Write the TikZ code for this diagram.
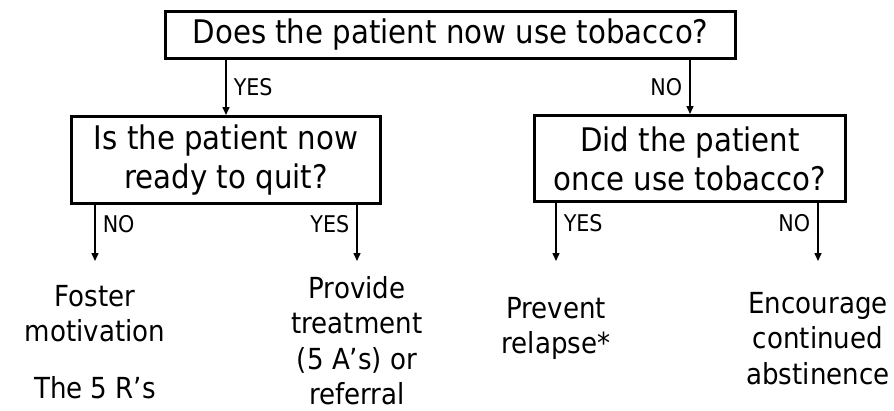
\documentclass[tikz,border=0pt]{standalone}
\usepackage{fontspec}
\setmainfont{DejaVu Sans}[FakeStretch=0.9]
\usetikzlibrary{arrows.meta}

\begin{document}
\begin{tikzpicture}[x=1pt, y=-1pt,
    question/.style={shape=rectangle, draw=black, line width=3pt, align=center, inner sep=0pt, font=\fontsize{32.5}{39}\selectfont},
    leaf/.style={anchor=north, inner sep=0pt, outer sep=0pt, align=center, font=\fontsize{29}{35.5}\selectfont},
    answer/.style={inner sep=7pt, font=\fontsize{23}{27}\selectfont}]
    \useasboundingbox (0,0) rectangle (894,410);

        \node[question, minimum width=570pt, minimum height=47pt] (T) at (450.5,35) {Does the patient now use tobacco?};
        \node[question, minimum width=309pt, minimum height=87pt] (R) at (226,160) {Is the patient now\\ready to quit?};
        \node[question, minimum width=311pt, minimum height=86pt] (O) at (690,158.5) {Did the patient\\once use tobacco?};

        \node[leaf, outer ysep=24pt] (F) at (95,261) {Foster\\motivation};
        \node[leaf] (F5) at (95,376) {The 5 R's};
        \node[leaf, outer ysep=15pt] (P) at (357,261) {Provide\\treatment\\(5 A's) or\\referral};
        \node[leaf, outer ysep=36pt] (V) at (556,261) {Prevent\\relapse*};
        \node[leaf, outer ysep=31pt] (E) at (818,261) {Encourage\\continued\\abstinence};

    \begin{scope}[every edge/.style={draw=black, line width=1.5pt, -{Triangle[length=8pt, width=7pt]}}]
        \draw (T.south -| R) edge node[answer, right] {YES} (R);
        \draw (T.south -| O) edge node[answer, left] {NO} (O);
        \draw (R.south -| F) edge node[answer, right, pos=0.34] {NO} (F);
        \draw (R.south -| P) edge node[answer, left, pos=0.34] {YES} (P);
        \draw (O.south -| V) edge node[answer, right, pos=0.34] {YES} (V);
        \draw (O.south -| E) edge node[answer, left, pos=0.34] {NO} (E);
    \end{scope}

\end{tikzpicture}
\end{document}
